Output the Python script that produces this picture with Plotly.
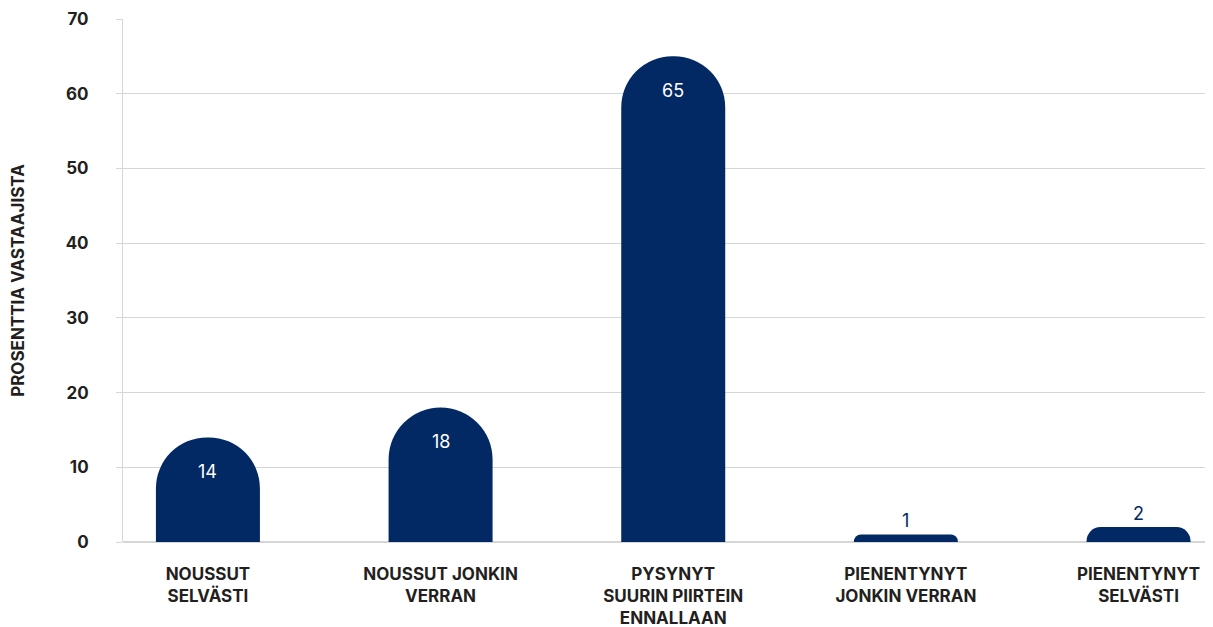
import plotly.graph_objects as go

categories = ["NOUSSUT<br>SELVÄSTI", "NOUSSUT JONKIN<br>VERRAN", "PYSYNYT<br>SUURIN PIIRTEIN<br>ENNALLAAN",
              "PIENENTYNYT<br>JONKIN VERRAN", "PIENENTYNYT<br>SELVÄSTI"]
values = [14, 18, 65, 1, 2]
y_ticks = [0, 10, 20, 30, 40, 50, 60, 70]

NAVY = "#022963"
GRID = "#d6d6d6"
TXT = "#231f20"
FONT = "Inter"

xs = list(range(len(values)))

fig = go.Figure()
fig.add_trace(go.Bar(
    x=xs, y=values, width=0.447,
    marker=dict(color=NAVY, cornerradius="50%", line=dict(width=0)),
    hoverinfo="skip",
))

for x, v in zip(xs, values):
    if v >= 7:
        fig.add_annotation(x=x, y=v, xref="x", yref="y", text=str(v), showarrow=False,
                           yshift=-34, font=dict(family=FONT, size=18, color="white"))
    else:
        fig.add_annotation(x=x, y=v, xref="x", yref="y", text=str(v), showarrow=False,
                           yshift=14, font=dict(family=FONT, size=18, color=NAVY))

# page body has an 8px margin: size the figure so the plot lands where the reference has it
fig.update_layout(
    width=1205, height=619,
    margin=dict(l=115, r=0, t=11, b=85),
    plot_bgcolor="white", paper_bgcolor="white",
    showlegend=False,
    font=dict(family=FONT, color=TXT),
    xaxis=dict(
        range=[-0.365, 4.32], tickvals=xs, ticktext=[f"<b>{c}</b>" for c in categories],
        showgrid=False, zeroline=False, showline=False, ticks="",
        tickfont=dict(family=FONT, size=17, color=TXT), ticklabelstandoff=20,
        fixedrange=True, automargin=False,
    ),
    yaxis=dict(
        range=[0, 70], tickvals=y_ticks, ticktext=[f"<b>{t}</b>" for t in y_ticks],
        showgrid=True, gridcolor=GRID, gridwidth=1, zeroline=True, zerolinecolor=GRID,
        showline=True, linecolor=GRID, linewidth=1,
        ticks="outside", ticklen=6, tickcolor=GRID,
        tickfont=dict(family=FONT, size=17, color=TXT), ticklabelstandoff=24,
        title=dict(text="<b>PROSENTTIA VASTAAJISTA</b>", font=dict(family=FONT, size=17, color=TXT), standoff=36),
        fixedrange=True, automargin=False,
    ),
)

fig.write_html("out.html")
